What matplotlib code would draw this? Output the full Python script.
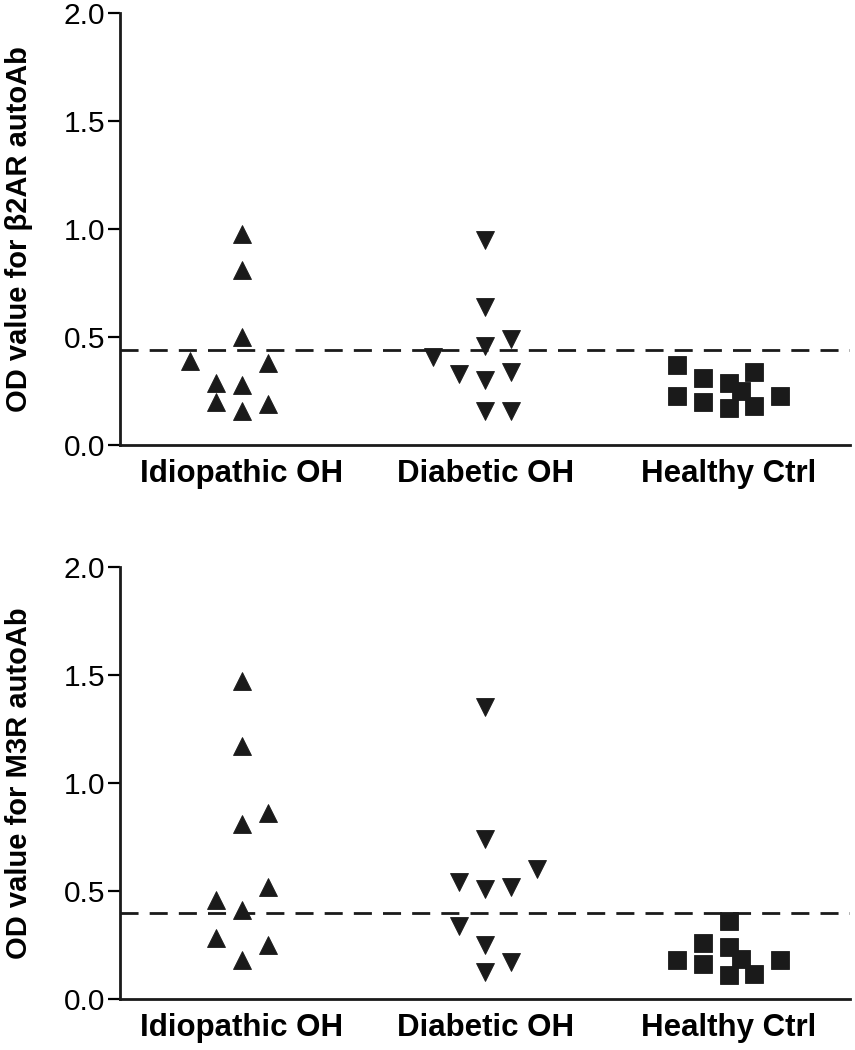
import matplotlib
matplotlib.use("Agg")
import matplotlib.pyplot as plt
import numpy as np

plt.rcParams['font.family'] = ['Liberation Sans', 'DejaVu Sans']

groups = ["Idiopathic OH", "Diabetic OH", "Healthy Ctrl"]
markers = ["^", "v", "s"]

# beta2AR panel: values and horizontal jitter slot (in units of one marker step)
b2_idio = [0.98, 0.81, 0.50, 0.39, 0.38, 0.29, 0.28, 0.20, 0.19, 0.16]
b2_idio_slot = [0, 0, 0, -2, 1, -1, 0, -1, 1, 0]
b2_diab = [0.95, 0.64, 0.49, 0.46, 0.41, 0.33, 0.34, 0.30, 0.16, 0.16]
b2_diab_slot = [0, 0, 1, 0, -2, -1, 1, 0, 0, 1]
b2_ctrl = [0.37, 0.23, 0.31, 0.20, 0.29, 0.17, 0.34, 0.18, 0.23, 0.25]
b2_ctrl_slot = [-2, -2, -1, -1, 0, 0, 1, 1, 2, 0.5]
b2_cutoff = 0.44

# M3R panel
m3_idio = [1.47, 1.17, 0.86, 0.81, 0.52, 0.46, 0.41, 0.28, 0.25, 0.18]
m3_idio_slot = [0, 0, 1, 0, 1, -1, 0, -1, 1, 0]
m3_diab = [1.35, 0.74, 0.60, 0.54, 0.51, 0.52, 0.34, 0.25, 0.17, 0.125]
m3_diab_slot = [0, 0, 2, -1, 0, 1, -1, 0, 1, 0]
m3_ctrl = [0.36, 0.18, 0.26, 0.16, 0.24, 0.11, 0.185, 0.115, 0.18]
m3_ctrl_slot = [0, -2, -1, -1, 0, 0, 0.5, 1, 2]
m3_cutoff = 0.40

step = 0.1066
ink = "#1a1a1a"


def draw_panel(ax, series, slots, cutoff, ylabel):
    for i, (vals, sl) in enumerate(zip(series, slots)):
        xs = i + step * np.array(sl, dtype=float)
        ax.plot(xs, vals, linestyle="none", marker=markers[i], ms=13.6,
                color=ink, mec=ink, mew=0.6)
    ax.axhline(cutoff, color=ink, lw=2, ls=(0, (6.5, 4)))
    ax.set_xlim(-0.5, 2.5)
    ax.set_ylim(0, 2.0)
    ax.set_yticks([0.0, 0.5, 1.0, 1.5, 2.0])
    ax.set_yticklabels(["0.0", "0.5", "1.0", "1.5", "2.0"])
    ax.set_xticks(range(3))
    ax.set_xticklabels(groups, fontsize=22.5, fontweight="bold")
    ax.tick_params(axis="x", length=0, pad=10)
    ax.tick_params(axis="y", labelsize=21.5, length=8.5, width=1.6, pad=2)
    for side in ["top", "right"]:
        ax.spines[side].set_visible(False)
    for side in ["left", "bottom"]:
        ax.spines[side].set_linewidth(2)
        ax.spines[side].set_color(ink)
    ax.set_ylabel(ylabel, fontsize=21, fontweight="bold")
    ax.yaxis.set_label_coords(-0.119, 0.5)


fig = plt.figure(figsize=(8.55, 10.5), dpi=100)
ax1 = fig.add_axes([0.1404, 0.576, 0.854, 0.4114])
ax2 = fig.add_axes([0.1404, 0.0486, 0.854, 0.4114])

draw_panel(ax1, [b2_idio, b2_diab, b2_ctrl], [b2_idio_slot, b2_diab_slot, b2_ctrl_slot],
           b2_cutoff, "OD value for β2AR autoAb")
draw_panel(ax2, [m3_idio, m3_diab, m3_ctrl], [m3_idio_slot, m3_diab_slot, m3_ctrl_slot],
           m3_cutoff, "OD value for M3R autoAb")

fig.savefig("out.png", dpi=100)
